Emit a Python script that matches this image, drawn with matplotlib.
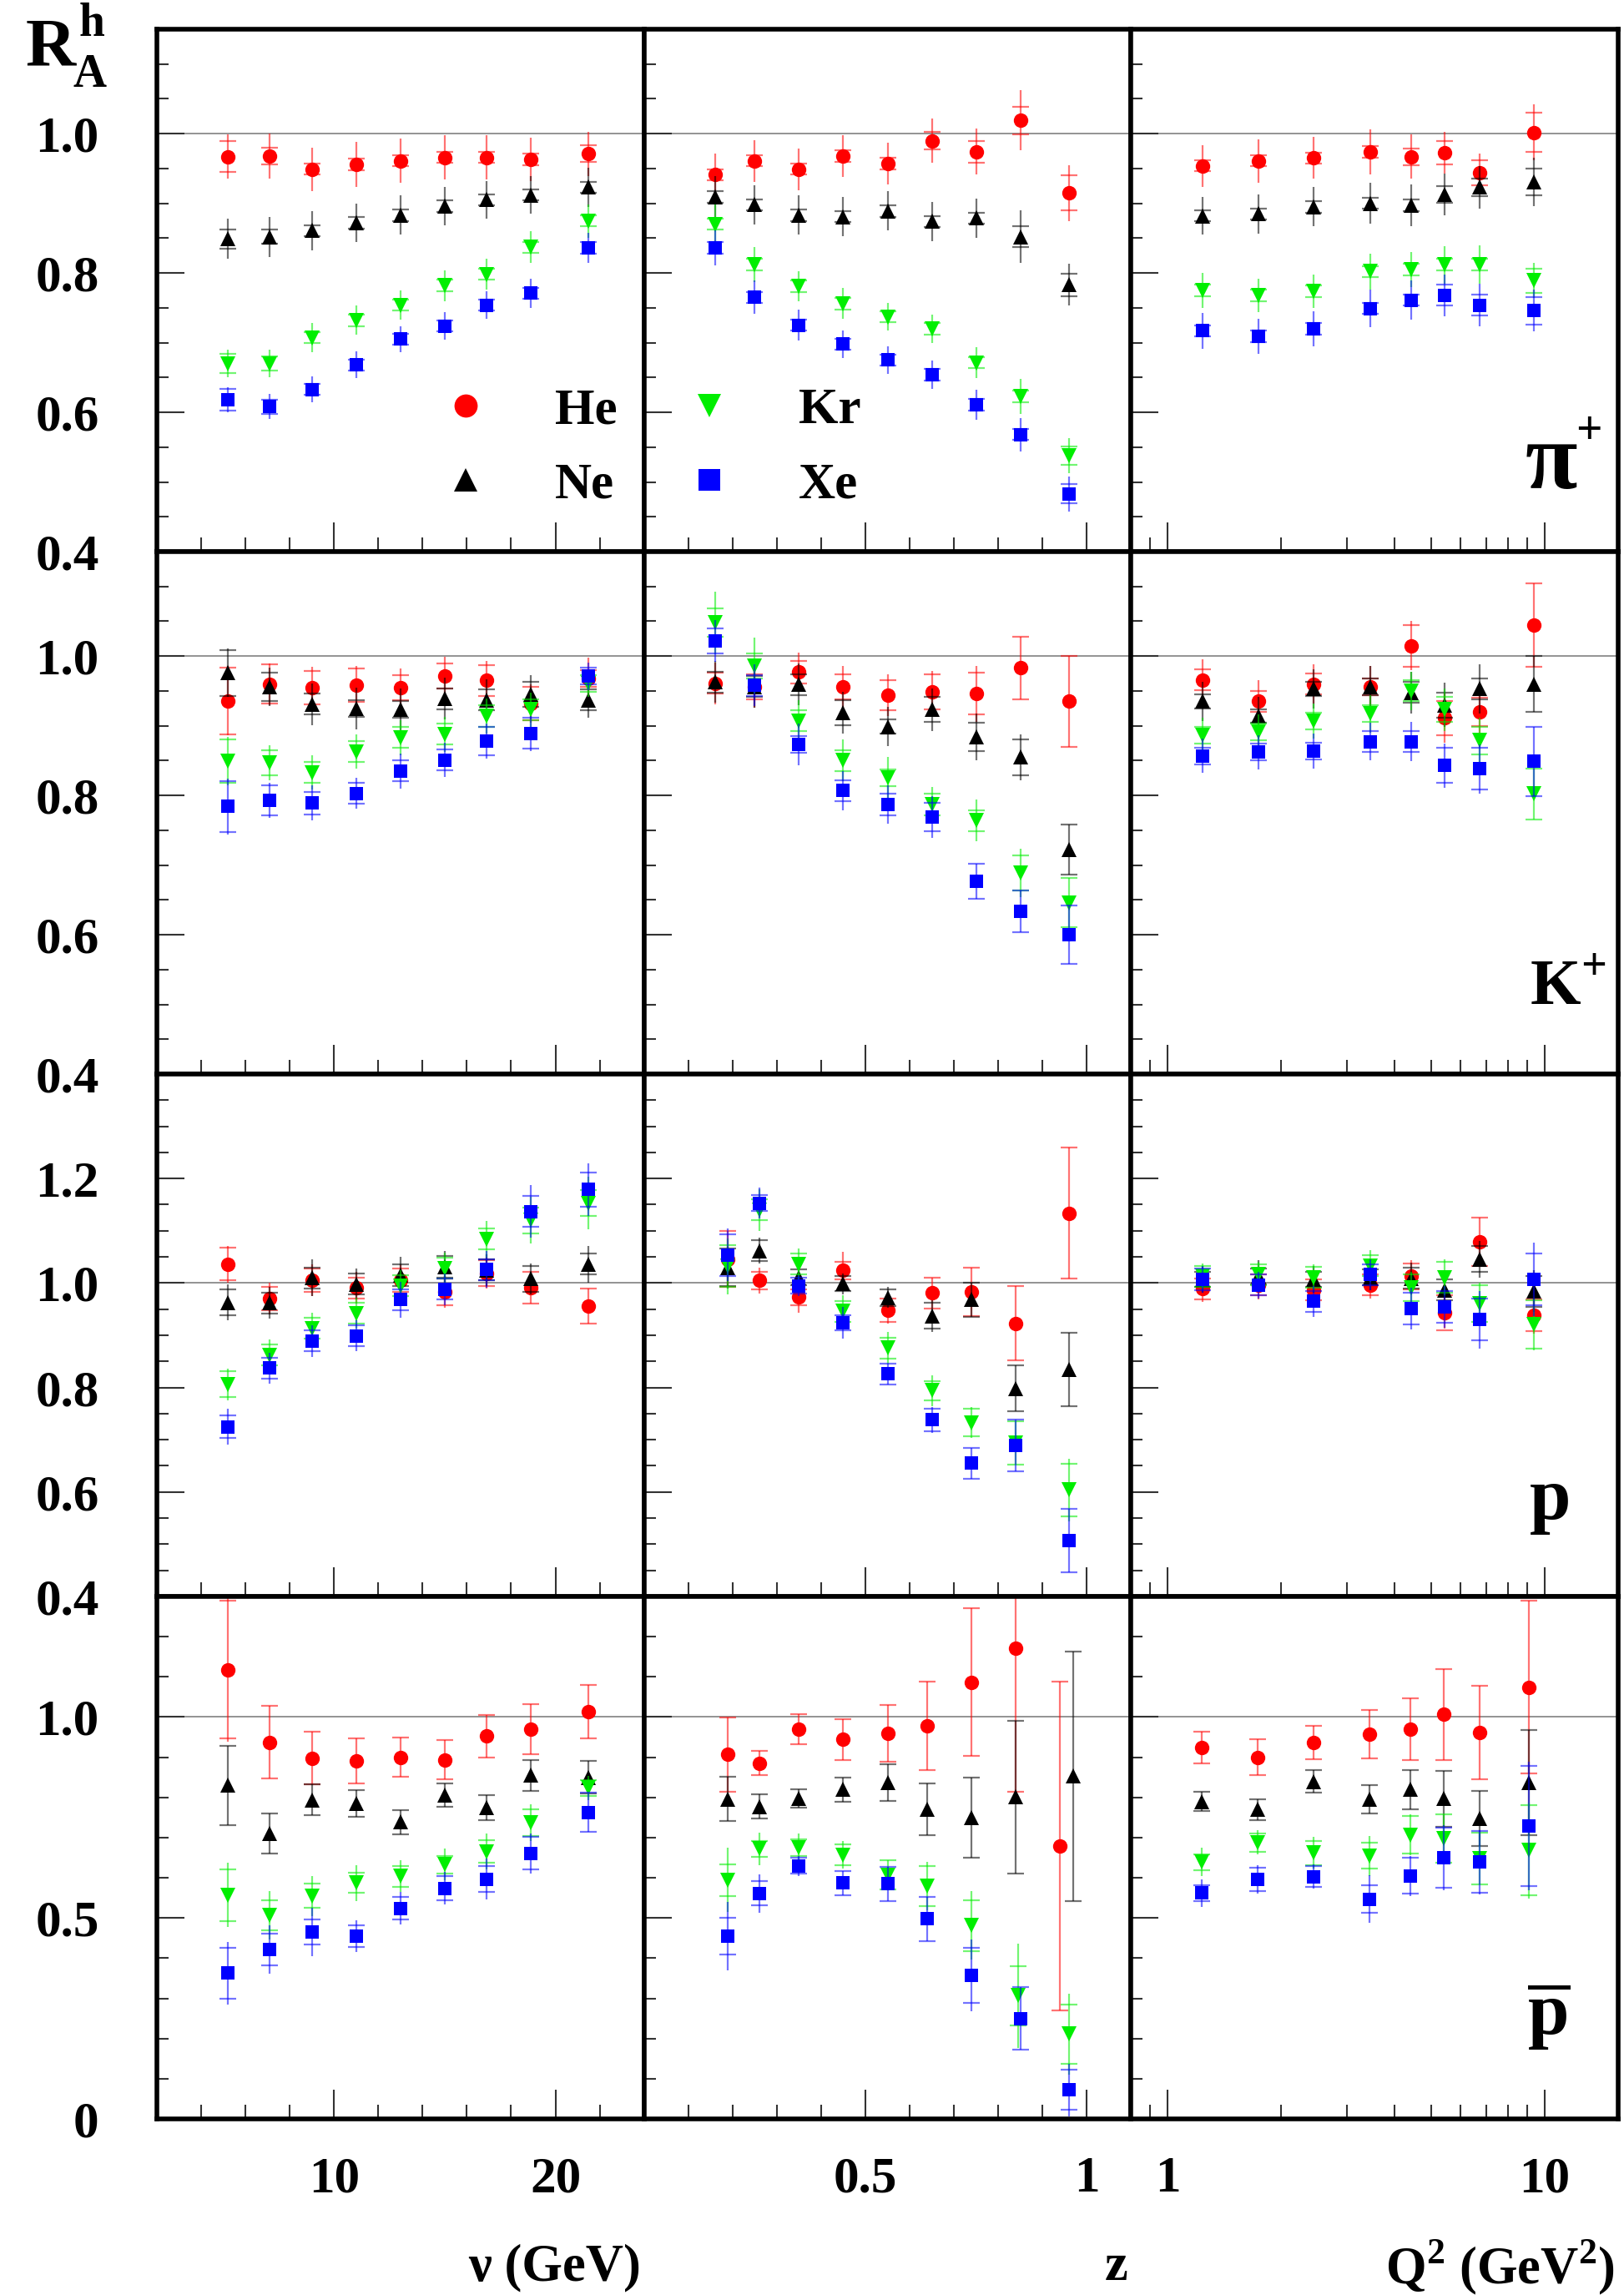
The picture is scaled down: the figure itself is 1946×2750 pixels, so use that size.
import numpy as np
import matplotlib
matplotlib.use("Agg")
import matplotlib.pyplot as plt
from matplotlib.lines import Line2D
from matplotlib.ticker import FixedLocator, FixedFormatter, NullFormatter

W, H = 1946, 2750

plt.rcParams["font.family"] = ["Liberation Serif", "DejaVu Serif"]
plt.rcParams["font.weight"] = "bold"
plt.rcParams["mathtext.fontset"] = "custom"
plt.rcParams["mathtext.rm"] = "Liberation Serif:bold"
plt.rcParams["mathtext.bf"] = "Liberation Serif:bold"

NUCLEI = ["He", "Ne", "Kr", "Xe"]
COLORS = ["#ff0000", "#000000", "#00ee00", "#0000ff"]
MARKERS = ["o", "^", "v", "s"]
MSIZES = [12.5, 12.5, 12.5, 11.5]

# x values (bin centres)
NU = [5.2, 7.1, 9.0, 11.0, 13.0, 15.0, 16.9, 18.9, 21.5]
Z = [0.16, 0.25, 0.35, 0.45, 0.55, 0.65, 0.75, 0.85, 0.96]
Z_P = [0.19, 0.26, 0.35, 0.45, 0.55, 0.65, 0.74, 0.84, 0.96]
Z_PBAR = [
    [0.19, 0.26, 0.35, 0.45, 0.55, 0.64, 0.74, 0.84, 0.94],
    [0.19, 0.26, 0.35, 0.45, 0.55, 0.64, 0.74, 0.84, 0.97],
    [0.19, 0.26, 0.35, 0.45, 0.55, 0.64, 0.74, 0.845, 0.96],
    [0.19, 0.26, 0.35, 0.45, 0.55, 0.64, 0.74, 0.85, 0.96],
]
Q2 = [1.24, 1.74, 2.44, 3.46, 4.43, 5.43, 6.75, 9.4]
Q2_PBAR = [1.23, 1.73, 2.44, 3.43, 4.41, 5.40, 6.73, 9.1]

# pi+ -------------------------------------------------------------
PIP_NU = [
    [0.967, 0.968, 0.949, 0.956, 0.961, 0.966, 0.966, 0.963, 0.971],
    [0.849, 0.852, 0.861, 0.872, 0.883, 0.896, 0.905, 0.912, 0.923],
    [0.670, 0.670, 0.707, 0.732, 0.754, 0.782, 0.798, 0.837, 0.875],
    [0.618, 0.608, 0.633, 0.668, 0.705, 0.724, 0.754, 0.771, 0.836],
]
PIP_NU_STAT = [
    [0.032, 0.032, 0.031, 0.032, 0.032, 0.032, 0.032, 0.031, 0.032],
    [0.029, 0.029, 0.028, 0.028, 0.028, 0.028, 0.027, 0.027, 0.028],
    [0.020, 0.020, 0.021, 0.021, 0.021, 0.022, 0.022, 0.023, 0.024],
    [0.018, 0.018, 0.018, 0.019, 0.019, 0.020, 0.020, 0.021, 0.022],
]
PIP_NU_SYS = [
    [0.022, 0.012, 0.008, 0.008, 0.008, 0.008, 0.008, 0.008, 0.012],
    [0.014, 0.010, 0.008, 0.008, 0.008, 0.008, 0.008, 0.008, 0.008],
    [0.014, 0.010, 0.008, 0.008, 0.008, 0.008, 0.008, 0.008, 0.008],
    [0.016, 0.010, 0.008, 0.008, 0.008, 0.008, 0.008, 0.008, 0.008],
]

PIP_Z = [
    [0.941, 0.961, 0.949, 0.968, 0.957, 0.990, 0.974, 1.019, 0.915],
    [0.909, 0.898, 0.883, 0.881, 0.889, 0.874, 0.879, 0.852, 0.783],
    [0.870, 0.812, 0.781, 0.756, 0.737, 0.720, 0.671, 0.623, 0.538],
    [0.836, 0.765, 0.725, 0.698, 0.675, 0.654, 0.611, 0.568, 0.483],
]
PIP_Z_STAT = [
    [0.030, 0.030, 0.030, 0.030, 0.030, 0.032, 0.033, 0.043, 0.040],
    [0.030, 0.028, 0.028, 0.028, 0.028, 0.028, 0.028, 0.038, 0.030],
    [0.028, 0.025, 0.022, 0.022, 0.020, 0.020, 0.022, 0.025, 0.025],
    [0.025, 0.024, 0.022, 0.020, 0.020, 0.020, 0.022, 0.024, 0.025],
]
PIP_Z_SYS = [
    [0.008, 0.008, 0.008, 0.008, 0.008, 0.013, 0.016, 0.020, 0.025],
    [0.008, 0.008, 0.008, 0.008, 0.008, 0.008, 0.008, 0.015, 0.016],
    [0.008, 0.008, 0.008, 0.008, 0.008, 0.008, 0.008, 0.008, 0.013],
    [0.008, 0.008, 0.008, 0.008, 0.008, 0.008, 0.008, 0.008, 0.014],
]

PIP_Q2 = [
    [0.954, 0.961, 0.965, 0.974, 0.967, 0.973, 0.944, 1.002],
    [0.882, 0.885, 0.895, 0.900, 0.897, 0.913, 0.923, 0.931],
    [0.775, 0.768, 0.774, 0.802, 0.805, 0.812, 0.812, 0.789],
    [0.717, 0.709, 0.720, 0.749, 0.761, 0.768, 0.754, 0.746],
]
PIP_Q2_STAT = [
    [0.030, 0.031, 0.030, 0.032, 0.032, 0.030, 0.028, 0.040],
    [0.027, 0.028, 0.028, 0.029, 0.030, 0.030, 0.030, 0.035],
    [0.025, 0.024, 0.024, 0.026, 0.025, 0.027, 0.028, 0.025],
    [0.026, 0.025, 0.025, 0.027, 0.028, 0.030, 0.030, 0.030],
]
PIP_Q2_SYS = [
    [0.008, 0.008, 0.008, 0.008, 0.012, 0.017, 0.018, 0.028],
    [0.008, 0.008, 0.008, 0.008, 0.008, 0.012, 0.013, 0.019],
    [0.008, 0.008, 0.008, 0.008, 0.008, 0.008, 0.008, 0.017],
    [0.008, 0.008, 0.008, 0.008, 0.008, 0.015, 0.015, 0.020],
]

# K+ --------------------------------------------------------------
K_NU = [
    [0.936, 0.960, 0.955, 0.958, 0.955, 0.972, 0.965, 0.932, 0.968],
    [0.976, 0.956, 0.931, 0.925, 0.923, 0.939, 0.937, 0.945, 0.937],
    [0.849, 0.847, 0.833, 0.863, 0.883, 0.888, 0.914, 0.923, 0.961],
    [0.784, 0.793, 0.789, 0.803, 0.835, 0.851, 0.878, 0.889, 0.971],
]
K_NU_STAT = [
    [0.050, 0.030, 0.030, 0.028, 0.027, 0.027, 0.028, 0.028, 0.030],
    [0.035, 0.028, 0.030, 0.030, 0.030, 0.030, 0.030, 0.028, 0.025],
    [0.035, 0.025, 0.025, 0.025, 0.025, 0.025, 0.025, 0.025, 0.020],
    [0.040, 0.025, 0.025, 0.022, 0.025, 0.025, 0.025, 0.025, 0.020],
]
K_NU_SYS = [
    [0.048, 0.028, 0.024, 0.024, 0.018, 0.018, 0.022, 0.024, 0.012],
    [0.033, 0.020, 0.015, 0.012, 0.012, 0.015, 0.015, 0.018, 0.015],
    [0.031, 0.018, 0.015, 0.015, 0.015, 0.015, 0.015, 0.015, 0.012],
    [0.037, 0.022, 0.016, 0.015, 0.015, 0.015, 0.020, 0.022, 0.012],
]

K_Z = [
    [0.961, 0.956, 0.977, 0.956, 0.944, 0.949, 0.946, 0.983, 0.935],
    [0.963, 0.956, 0.959, 0.919, 0.899, 0.923, 0.884, 0.855, 0.722],
    [1.048, 0.986, 0.907, 0.850, 0.825, 0.787, 0.764, 0.689, 0.646],
    [1.022, 0.958, 0.873, 0.807, 0.787, 0.769, 0.677, 0.634, 0.600],
]
K_Z_STAT = [
    [0.030, 0.030, 0.028, 0.030, 0.030, 0.030, 0.040, 0.045, 0.065],
    [0.030, 0.030, 0.030, 0.030, 0.028, 0.030, 0.033, 0.033, 0.036],
    [0.045, 0.040, 0.030, 0.030, 0.030, 0.025, 0.030, 0.035, 0.035],
    [0.030, 0.030, 0.030, 0.028, 0.028, 0.030, 0.025, 0.030, 0.042],
]
K_Z_SYS = [
    [0.015, 0.018, 0.016, 0.018, 0.022, 0.025, 0.030, 0.045, 0.065],
    [0.015, 0.015, 0.015, 0.018, 0.010, 0.018, 0.020, 0.026, 0.036],
    [0.020, 0.018, 0.015, 0.015, 0.012, 0.015, 0.015, 0.025, 0.035],
    [0.018, 0.015, 0.012, 0.015, 0.015, 0.020, 0.025, 0.030, 0.042],
]

K_Q2 = [
    [0.966, 0.935, 0.960, 0.956, 1.015, 0.911, 0.920, 1.045],
    [0.935, 0.914, 0.953, 0.956, 0.948, 0.930, 0.953, 0.960],
    [0.887, 0.891, 0.907, 0.917, 0.950, 0.923, 0.879, 0.802],
    [0.857, 0.862, 0.864, 0.877, 0.877, 0.843, 0.838, 0.849],
]
K_Q2_STAT = [
    [0.030, 0.030, 0.028, 0.030, 0.035, 0.035, 0.035, 0.060],
    [0.028, 0.028, 0.028, 0.030, 0.030, 0.032, 0.035, 0.040],
    [0.025, 0.025, 0.025, 0.027, 0.028, 0.030, 0.032, 0.037],
    [0.025, 0.025, 0.025, 0.027, 0.028, 0.032, 0.035, 0.050],
]
K_Q2_SYS = [
    [0.015, 0.015, 0.015, 0.012, 0.030, 0.025, 0.020, 0.060],
    [0.010, 0.010, 0.010, 0.012, 0.015, 0.018, 0.015, 0.040],
    [0.012, 0.012, 0.012, 0.012, 0.015, 0.018, 0.020, 0.037],
    [0.012, 0.012, 0.012, 0.015, 0.015, 0.025, 0.030, 0.050],
]

# p ---------------------------------------------------------------
P_NU = [
    [1.036, 0.970, 1.005, 0.991, 1.005, 0.983, 1.019, 0.991, 0.956],
    [0.963, 0.962, 1.010, 0.998, 1.015, 1.031, 1.025, 1.008, 1.036],
    [0.806, 0.862, 0.913, 0.942, 0.995, 1.028, 1.084, 1.120, 1.153],
    [0.725, 0.837, 0.889, 0.899, 0.968, 0.988, 1.026, 1.137, 1.179],
]
P_NU_STAT = [
    [0.035, 0.030, 0.030, 0.030, 0.030, 0.030, 0.030, 0.030, 0.033],
    [0.035, 0.030, 0.035, 0.030, 0.035, 0.030, 0.030, 0.030, 0.035],
    [0.030, 0.030, 0.030, 0.030, 0.030, 0.030, 0.035, 0.045, 0.050],
    [0.035, 0.030, 0.030, 0.030, 0.035, 0.030, 0.035, 0.050, 0.050],
]
P_NU_SYS = [
    [0.031, 0.022, 0.022, 0.020, 0.022, 0.025, 0.025, 0.030, 0.033],
    [0.025, 0.020, 0.020, 0.020, 0.020, 0.020, 0.020, 0.025, 0.020],
    [0.025, 0.020, 0.020, 0.020, 0.020, 0.020, 0.020, 0.025, 0.025],
    [0.022, 0.020, 0.020, 0.020, 0.020, 0.020, 0.020, 0.029, 0.033],
]

P_Z = [
    [1.046, 1.005, 0.973, 1.024, 0.948, 0.981, 0.983, 0.923, 1.134],
    [1.030, 1.062, 1.011, 0.999, 0.972, 0.937, 0.968, 0.798, 0.835],
    [1.032, 1.140, 1.036, 0.946, 0.876, 0.794, 0.733, 0.694, 0.604],
    [1.054, 1.153, 0.995, 0.924, 0.826, 0.738, 0.655, 0.689, 0.507],
]
P_Z_STAT = [
    [0.053, 0.025, 0.030, 0.035, 0.025, 0.030, 0.047, 0.071, 0.126],
    [0.040, 0.025, 0.020, 0.020, 0.020, 0.030, 0.033, 0.044, 0.070],
    [0.053, 0.040, 0.030, 0.030, 0.030, 0.030, 0.030, 0.041, 0.060],
    [0.050, 0.030, 0.020, 0.030, 0.020, 0.025, 0.030, 0.050, 0.061],
]
P_Z_SYS = [
    [0.053, 0.017, 0.015, 0.017, 0.022, 0.030, 0.047, 0.071, 0.126],
    [0.036, 0.020, 0.015, 0.015, 0.016, 0.025, 0.033, 0.044, 0.070],
    [0.040, 0.020, 0.020, 0.020, 0.020, 0.018, 0.026, 0.041, 0.050],
    [0.040, 0.015, 0.015, 0.015, 0.020, 0.022, 0.030, 0.050, 0.061],
]

P_Q2 = [
    [0.989, 0.996, 0.987, 0.996, 1.013, 0.943, 1.079, 0.938],
    [1.007, 1.013, 1.007, 1.011, 1.009, 0.987, 1.046, 0.984],
    [1.013, 1.016, 1.011, 1.033, 0.991, 1.011, 0.961, 0.921],
    [1.007, 0.996, 0.965, 1.016, 0.951, 0.954, 0.930, 1.007],
]
P_Q2_STAT = [
    [0.025, 0.028, 0.025, 0.025, 0.030, 0.030, 0.046, 0.035],
    [0.025, 0.030, 0.025, 0.025, 0.030, 0.030, 0.035, 0.040],
    [0.025, 0.025, 0.025, 0.030, 0.030, 0.035, 0.040, 0.050],
    [0.025, 0.025, 0.030, 0.030, 0.040, 0.040, 0.055, 0.070],
]
P_Q2_SYS = [
    [0.020, 0.020, 0.020, 0.020, 0.025, 0.034, 0.046, 0.030],
    [0.015, 0.015, 0.015, 0.015, 0.020, 0.020, 0.025, 0.030],
    [0.020, 0.020, 0.020, 0.020, 0.025, 0.030, 0.035, 0.046],
    [0.020, 0.020, 0.020, 0.020, 0.030, 0.030, 0.040, 0.050],
]

# anti-p ----------------------------------------------------------
PBAR_NU = [
    [1.118, 0.937, 0.898, 0.891, 0.900, 0.894, 0.953, 0.970, 1.013],
    [0.830, 0.710, 0.794, 0.785, 0.739, 0.805, 0.774, 0.855, 0.850],
    [0.557, 0.507, 0.555, 0.587, 0.604, 0.633, 0.665, 0.737, 0.824],
    [0.363, 0.422, 0.465, 0.455, 0.524, 0.574, 0.597, 0.661, 0.763],
]
PBAR_NU_STAT = [
    [0.180, 0.090, 0.065, 0.057, 0.049, 0.048, 0.053, 0.062, 0.066],
    [0.099, 0.050, 0.038, 0.034, 0.030, 0.029, 0.031, 0.039, 0.040],
    [0.080, 0.060, 0.050, 0.045, 0.040, 0.040, 0.045, 0.045, 0.030],
    [0.078, 0.060, 0.060, 0.040, 0.040, 0.040, 0.050, 0.050, 0.048],
]
PBAR_NU_SYS = [
    [0.172, 0.090, 0.065, 0.057, 0.049, 0.048, 0.053, 0.062, 0.066],
    [0.099, 0.050, 0.038, 0.034, 0.030, 0.029, 0.031, 0.039, 0.040],
    [0.064, 0.037, 0.030, 0.025, 0.026, 0.022, 0.028, 0.033, 0.020],
    [0.063, 0.040, 0.032, 0.027, 0.028, 0.030, 0.032, 0.040, 0.048],
]

PBAR_Z = [
    [0.907, 0.885, 0.970, 0.944, 0.959, 0.979, 1.087, 1.172, 0.679],
    [0.796, 0.777, 0.798, 0.820, 0.837, 0.770, 0.750, 0.801, 0.853],
    [0.594, 0.672, 0.675, 0.657, 0.607, 0.579, 0.481, 0.307, 0.211],
    [0.455, 0.561, 0.630, 0.587, 0.585, 0.498, 0.357, 0.250, 0.072],
]
PBAR_Z_STAT = [
    [0.092, 0.030, 0.038, 0.051, 0.070, 0.110, 0.184, 0.357, 0.410],
    [0.055, 0.030, 0.023, 0.030, 0.046, 0.064, 0.100, 0.190, 0.310],
    [0.080, 0.040, 0.035, 0.035, 0.036, 0.060, 0.085, 0.130, 0.100],
    [0.085, 0.048, 0.025, 0.030, 0.042, 0.055, 0.090, 0.078, 0.065],
]
PBAR_Z_SYS = [
    [0.092, 0.030, 0.038, 0.051, 0.070, 0.110, 0.184, 0.357, 0.410],
    [0.055, 0.030, 0.023, 0.030, 0.046, 0.064, 0.100, 0.190, 0.310],
    [0.040, 0.020, 0.020, 0.026, 0.036, 0.050, 0.063, 0.074, 0.074],
    [0.045, 0.030, 0.020, 0.030, 0.042, 0.055, 0.068, 0.078, 0.050],
]

PBAR_Q2 = [
    [0.924, 0.900, 0.937, 0.957, 0.970, 1.007, 0.961, 1.074],
    [0.790, 0.770, 0.840, 0.796, 0.820, 0.797, 0.748, 0.837],
    [0.639, 0.688, 0.662, 0.655, 0.707, 0.698, 0.648, 0.668],
    [0.562, 0.596, 0.603, 0.547, 0.605, 0.650, 0.639, 0.729],
]
PBAR_Q2_STAT = [
    [0.039, 0.045, 0.042, 0.060, 0.077, 0.113, 0.116, 0.215],
    [0.024, 0.026, 0.028, 0.035, 0.049, 0.070, 0.069, 0.130],
    [0.035, 0.030, 0.040, 0.050, 0.050, 0.060, 0.065, 0.120],
    [0.035, 0.035, 0.030, 0.060, 0.050, 0.080, 0.080, 0.160],
]
PBAR_Q2_SYS = [
    [0.039, 0.045, 0.042, 0.060, 0.077, 0.113, 0.116, 0.215],
    [0.024, 0.026, 0.028, 0.035, 0.049, 0.070, 0.069, 0.130],
    [0.020, 0.023, 0.030, 0.032, 0.046, 0.060, 0.065, 0.112],
    [0.020, 0.029, 0.026, 0.034, 0.044, 0.074, 0.077, 0.150],
]

PANELS = [
    [(NU, PIP_NU, PIP_NU_STAT, PIP_NU_SYS),
     (Z, PIP_Z, PIP_Z_STAT, PIP_Z_SYS),
     (Q2, PIP_Q2, PIP_Q2_STAT, PIP_Q2_SYS)],
    [(NU, K_NU, K_NU_STAT, K_NU_SYS),
     (Z, K_Z, K_Z_STAT, K_Z_SYS),
     (Q2, K_Q2, K_Q2_STAT, K_Q2_SYS)],
    [(NU, P_NU, P_NU_STAT, P_NU_SYS),
     (Z_P, P_Z, P_Z_STAT, P_Z_SYS),
     (Q2, P_Q2, P_Q2_STAT, P_Q2_SYS)],
    [(NU, PBAR_NU, PBAR_NU_STAT, PBAR_NU_SYS),
     (Z_PBAR, PBAR_Z, PBAR_Z_STAT, PBAR_Z_SYS),
     (Q2_PBAR, PBAR_Q2, PBAR_Q2_STAT, PBAR_Q2_SYS)],
]

ROW_YLIM = [(0.4, 1.15), (0.4, 1.15), (0.4, 1.4), (0.0, 1.3)]
ROW_YMAJOR = [[0.4, 0.6, 0.8, 1.0], [0.4, 0.6, 0.8, 1.0],
              [0.4, 0.6, 0.8, 1.0, 1.2], [0.0, 0.5, 1.0]]
ROW_YLABELS = [["0.4", "0.6", "0.8", "1.0"], ["0.4", "0.6", "0.8", "1.0"],
               ["0.4", "0.6", "0.8", "1.0", "1.2"], ["0", "0.5", "1.0"]]
ROW_YMINOR_STEP = [0.05, 0.05, 0.05, 0.1]

COL_XLIM = [(2, 24), (0.0, 1.1), (0.8, 15.7)]
COL_XMAJOR = [[10, 20], [0.5, 1.0], [1, 10]]
COL_XLABELS = [["10", "20"], ["0.5", "1"], ["1", "10"]]
COL_XMINOR = [[4, 6, 8, 12, 14, 16, 18, 22],
              [0.1, 0.2, 0.3, 0.4, 0.6, 0.7, 0.8, 0.9],
              [0.9, 2, 3, 4, 5, 6, 7, 8, 9]]
COL_TITLES = ["ν (GeV)", "z", "Q$^{2}$ (GeV$^{2}$)"]

HADRON_LABELS = ["π", "K$^{+}$", "p", r"$\overline{\mathrm{p}}$"]

# frame geometry in pixels
LEFT, RIGHT, TOP, BOTTOM = 188, 1939, 35, 2539
COL_W = (RIGHT - LEFT) / 3
ROW_H = (BOTTOM - TOP) / 4


def draw_panel(ax, x, vals, stat, sys):
    ax.axhline(1.0, color="#8a8a8a", lw=1.3, zorder=1)
    for i in range(4):
        xi = np.array(x[i] if isinstance(x[0], list) else x)
        y = np.array(vals[i])
        s = np.array(stat[i])
        e = np.array(sys[i])
        c = COLORS[i]
        ax.errorbar(xi, y, yerr=s, fmt="none", ecolor=c, elinewidth=1.6,
                    alpha=0.55, zorder=2 + i)
        ax.plot(np.r_[xi, xi], np.r_[y + e, y - e], ls="none", marker="_",
                ms=15, mew=1.6, color=c, alpha=0.55, zorder=2 + i)
        ax.plot(xi, y, ls="none", marker=MARKERS[i], ms=MSIZES[i],
                color=c, mew=0, zorder=2.5 + i)


fig = plt.figure(figsize=(W / 100, H / 100), dpi=100)
axes = {}

for r in range(4):
    for c in range(3):
        x0 = (LEFT + c * COL_W) / W
        y0 = 1 - (TOP + (r + 1) * ROW_H) / H
        ax = fig.add_axes([x0, y0, COL_W / W, ROW_H / H])
        axes[(r, c)] = ax
        x, vals, stat, sys = PANELS[r][c]
        draw_panel(ax, x, vals, stat, sys)

        if c == 2:
            ax.set_xscale("log")
        ax.set_xlim(*COL_XLIM[c])
        ax.set_ylim(*ROW_YLIM[r])

        ax.xaxis.set_major_locator(FixedLocator(COL_XMAJOR[c]))
        ax.xaxis.set_major_formatter(FixedFormatter(COL_XLABELS[c]))
        ax.xaxis.set_minor_locator(FixedLocator(COL_XMINOR[c]))
        ax.xaxis.set_minor_formatter(NullFormatter())

        lo, hi = ROW_YLIM[r]
        step = ROW_YMINOR_STEP[r]
        minor = np.round(np.arange(lo, hi + 1e-9, step), 3)
        ax.yaxis.set_major_locator(FixedLocator(ROW_YMAJOR[r]))
        ax.yaxis.set_major_formatter(FixedFormatter(ROW_YLABELS[r]))
        ax.yaxis.set_minor_locator(FixedLocator(minor))

        ax.tick_params(which="both", direction="in", top=False, right=False,
                       color="#333333", width=1.5, labelsize=44)
        ax.tick_params(axis="y", which="major", length=24, pad=50)
        ax.tick_params(axis="y", which="minor", length=10)
        ax.tick_params(axis="x", which="major", length=25, pad=32)
        ax.tick_params(axis="x", which="minor", length=12)
        ax.tick_params(labelleft=(c == 0), labelbottom=(r == 3))

        for sp in ax.spines.values():
            sp.set_linewidth(4)
            sp.set_zorder(10)

# hadron labels in right column
ax = axes[(0, 2)]
ax.text(0.862, 0.121, HADRON_LABELS[0], transform=ax.transAxes,
        fontsize=82, ha="center", va="baseline")
ax.text(0.940, 0.206, "+", transform=ax.transAxes,
        fontsize=40, ha="center", va="baseline")
ax = axes[(1, 2)]
ax.text(0.818, 0.133, HADRON_LABELS[1], transform=ax.transAxes,
        fontsize=56, ha="left", va="baseline")
ax = axes[(2, 2)]
ax.text(0.861, 0.149, HADRON_LABELS[2], transform=ax.transAxes,
        fontsize=64, ha="center", va="baseline")
ax = axes[(3, 2)]
ax.text(0.857, 0.161, HADRON_LABELS[3], transform=ax.transAxes,
        fontsize=64, ha="center", va="baseline")

# y-axis title R_A^h
fig.text(61 / W, 1 - 78 / H, "R", fontsize=60, ha="center", va="baseline")
fig.text(110 / W, 1 - 43 / H, "h", fontsize=40, ha="center", va="baseline")
fig.text(108 / W, 1 - 104 / H, "A", fontsize=40, ha="center", va="baseline")

# x-axis titles, right aligned at the end of each column
for c in range(3):
    fig.text((LEFT + (c + 1) * COL_W - 4) / W, 1 - 2717 / H, COL_TITLES[c],
             fontsize=45, ha="right", va="center")

# legend
handles = [Line2D([], [], ls="none", marker=MARKERS[i], color=COLORS[i],
                  ms=MSIZES[i], mew=0) for i in range(4)]
fig.legend(handles, NUCLEI, ncol=2, loc="center",
           bbox_to_anchor=(764 / W, 1 - 537 / H), frameon=False,
           fontsize=44, markerscale=1.6, handlelength=2.0,
           handletextpad=0.75, columnspacing=0.8, labelspacing=0.55,
           borderpad=0)

fig.savefig("out.png", dpi=100)
